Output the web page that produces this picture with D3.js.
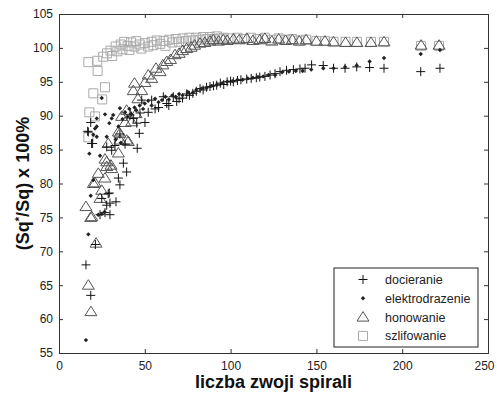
<!DOCTYPE html>
<html>
<head>
<meta charset="utf-8">
<script src="https://cdn.jsdelivr.net/npm/d3@7"></script>
<style>
  html, body { margin: 0; padding: 0; background: #fff; }
  svg { display: block; font-family: "Liberation Sans", Arial, sans-serif; }
</style>
</head>
<body>
<script>
// axis ticks
const xTicks = [0, 50, 100, 150, 200, 250];
const yTicks = [55, 60, 65, 70, 75, 80, 85, 90, 95, 100, 105];

// series: [liczba zwoji, Sq*/Sq %]
const docieranie = [
  [15.7, 68.0], [18.5, 63.5], [21.2, 71.0], [16.7, 87.7], [18.5, 89.0], [19.0, 85.9], [17.1, 87.6], [19.6, 85.9],
  [23.9, 75.4], [26.8, 75.7], [29.7, 75.4], [27.8, 76.8], [24.9, 77.8], [28.7, 78.5], [33.2, 77.3], [29.3, 78.6],
  [29.7, 77.1], [35.5, 79.8], [34.6, 80.8], [39.4, 81.7], [37.5, 83.0], [30.7, 84.9], [27.8, 85.4], [32.6, 85.6],
  [38.5, 85.8], [45.6, 85.2], [35.5, 87.3], [46.8, 87.4], [45.3, 88.9], [41.4, 90.1], [43.3, 89.6], [47.2, 90.4],
  [50.1, 89.0], [48.2, 92.3], [52, 90.5], [54, 92.3], [56, 91], [58, 91.2], [60.8, 92.8], [62.8, 91.8], [64, 91.5],
  [66.6, 92.8], [68.6, 92.1], [70, 92.5], [72, 92.6], [74.4, 93.2], [76, 93], [78, 93.3], [80, 93.6], [82.2, 94.0],
  [84, 93.8], [86, 94.2], [88, 94.3], [90, 94.4], [91.9, 94.5], [94, 94.8], [96, 94.6], [98, 95], [100, 95.1],
  [101.6, 95.0], [104, 95.2], [106, 95.3], [109.4, 95.4], [112, 95.5], [115, 95.6], [117, 95.7], [120, 95.8],
  [123, 96.0], [125.9, 96.2], [128.8, 96.5], [132.6, 96.7], [136.6, 96.8], [140.4, 96.9], [143.4, 97.0],
  [147.2, 97.5], [154, 97.4], [160, 97.0], [166.7, 97.0], [173.5, 97.2], [181, 97.1], [189.4, 97.0],
  [210.8, 96.5], [222, 97.0]
];
const elektrodrazenie = [
  [15.7, 56.9], [17.1, 72.5], [18.5, 78.2], [17.7, 84.4], [20, 80.5], [22, 86.9], [22, 88.4], [20, 87.2], [21, 88.1],
  [22, 89.6], [23.9, 84.1], [24.9, 92.6], [22.9, 75.4], [24.9, 75.5], [26.5, 75.8], [26.8, 90.2], [27.8, 86.9],
  [29.3, 88.9], [30.7, 89.6], [31.6, 90.1], [33, 86.5], [34.6, 88.4], [35.5, 91.1], [36, 86], [37, 89.5],
  [38.5, 90.5], [40, 89.8], [41, 91], [42, 90.3], [44, 91.2], [45, 90.8], [47, 91.5], [49, 91], [50, 91.8],
  [52, 92.2], [54, 91.5], [56, 92.5], [58, 92], [60, 92.3], [62, 92.8], [64, 92.4], [66, 93], [68, 92.8],
  [70, 93.2], [72, 93], [75, 93.5], [78, 93.4], [80, 93.8], [83, 94], [86, 94.1], [89, 94.4], [92, 94.6],
  [95, 94.8], [98, 95], [101, 95.1], [104, 95.3], [107, 95.3], [110, 95.5], [113, 95.6], [116, 95.7], [119, 95.8],
  [122, 96], [126, 96], [130, 96.4], [134, 96.5], [138, 96.6], [142, 96.6], [147, 96.8], [154, 97], [160, 97],
  [166.7, 97.2], [173.5, 97.4], [181, 98.0], [189.4, 98.5], [210.8, 99.1], [222, 99.7]
];
const honowanie = [
  [17.1, 65.0], [18.6, 61.1], [15.7, 76.6], [18.5, 75.0], [21.6, 71.2], [19.1, 75.1], [20, 80.0], [21, 80.1],
  [22.9, 81.5], [23.9, 77.8], [24.9, 79.0], [26.8, 80.8], [26.8, 83.6], [27.8, 82.5], [27.8, 83.2], [30.3, 82.7],
  [30.7, 82.2], [28.7, 85.9], [34.6, 84.5], [35.5, 86.4], [34.6, 87.6], [35.5, 87.4], [39.4, 86.4], [40.4, 86.2],
  [38.5, 89.0], [36.5, 89.9], [39.4, 90.8], [42.4, 89.1], [44.9, 90.3], [43.3, 93.7], [44, 94.8], [46, 92.5],
  [48.2, 93.7], [50.1, 94.9], [52.0, 96.0], [54, 95.5], [56.5, 97.0], [58.9, 96.5], [60.5, 97.5], [62.8, 98.0],
  [65, 98.3], [67.6, 99.0], [70, 99.2], [72, 99.6], [74.4, 99.9], [77, 100.1], [79, 100.4], [82.2, 100.7],
  [85, 100.8], [88, 101], [89.9, 101.2], [93, 101], [95.7, 101.2], [98, 101.1], [101.6, 101.3], [105, 101.2],
  [109.4, 101.4], [113, 101.1], [117, 101.2], [120, 101.4], [124, 101], [128, 101.3], [132, 101.1], [136, 101.2],
  [140, 101], [144, 101.2], [150, 101], [155, 101], [160, 100.9], [167, 100.8], [173.6, 100.8], [181.8, 100.8],
  [189.4, 100.9], [211, 100.4], [221.5, 100.4]
];
const szlifowanie = [
  [17.1, 86.8], [17.7, 90.5], [21, 89.9], [17.1, 97.9], [22.3, 98.1], [22.5, 96.6], [20, 93.3], [25.2, 92.4],
  [26.8, 94.2], [25.8, 98.7], [28, 99.2], [30, 99.6], [31, 98.8], [33, 100.2], [34, 99.5], [36, 100.5], [37, 99.8],
  [38, 100.9], [40, 100.3], [41, 99.7], [42, 100.8], [44, 100.2], [45, 101], [47, 100.5], [48, 99.9], [50, 100.7],
  [52, 100.2], [54, 100.9], [55, 100.4], [57, 101.1], [59, 100.6], [61, 101], [62, 100.3], [64, 101.2], [66, 100.8],
  [68, 101.3], [70, 100.9], [72, 101.4], [74, 101], [76, 101.5], [78, 101.1], [80, 101.5], [82, 101.2], [84, 101.6],
  [86, 101.3], [88, 101.6], [90, 101.3], [92, 101.7], [94, 101.4], [96, 101.5], [100, 101.4], [104, 101.5],
  [108, 101.3], [112, 101.5], [116, 101.3], [120, 101.5], [124, 101.2], [128, 101.4], [132, 101.2], [136, 101.3],
  [140, 101.1], [144, 101.2], [150, 101], [155, 101], [160, 100.9], [167, 100.9], [173.6, 100.9], [181.8, 100.9],
  [189.4, 100.9], [211, 100.3], [221.5, 100.3]
];

const seriesNames = ["docieranie", "elektrodrazenie", "honowanie", "szlifowanie"];

const width = 497, height = 394;
const margin = { left: 59, right: 9, top: 14, bottom: 41 };

const svg = d3.select("body").append("svg")
  .attr("width", width)
  .attr("height", height);

const x = d3.scaleLinear().domain([0, 250]).range([margin.left, width - margin.right]);
const y = d3.scaleLinear().domain([55, 105]).range([height - margin.bottom, margin.top]);

// marker drawing per series
const markers = {
  docieranie: (g) => g.append("path").attr("d", "M-4.5,0H4.5M0,-4.5V4.5")
    .attr("stroke", "#111").attr("stroke-width", 1).attr("fill", "none"),
  elektrodrazenie: (g) => g.append("path").attr("d", "M0,-2.2L2.2,0L0,2.2L-2.2,0Z")
    .attr("fill", "#222").attr("stroke", "none"),
  honowanie: (g) => g.append("path").attr("d", "M0,-5.5L6,4H-6Z")
    .attr("stroke", "#555").attr("stroke-width", 1).attr("fill", "none"),
  szlifowanie: (g) => g.append("path").attr("d", "M-4.5,-4.5H4.5V4.5H-4.5Z")
    .attr("stroke", "#aaa").attr("stroke-width", 1).attr("fill", "none"),
};
const seriesData = { docieranie, elektrodrazenie, honowanie, szlifowanie };

// draw order: squares, triangles, pluses, dots (roughly as in source)
const drawOrder = ["szlifowanie", "honowanie", "docieranie", "elektrodrazenie"];
const plot = svg.append("g");
drawOrder.forEach((name) => {
  const g = plot.append("g").attr("class", name);
  g.selectAll("g")
    .data(seriesData[name])
    .join("g")
    .attr("transform", (d) => `translate(${x(d[0])},${y(d[1])})`)
    .each(function () { markers[name](d3.select(this)); });
});

// axes (ticks inside, matlab style box)
const axisColor = "#333";
const tickLen = 4;
const xb = svg.append("g").attr("transform", `translate(0,${y(55)})`)
  .call(d3.axisBottom(x).tickValues(xTicks).tickSize(-tickLen).tickPadding(8));
const xt = svg.append("g").attr("transform", `translate(0,${y(105)})`)
  .call(d3.axisTop(x).tickValues(xTicks).tickSize(-tickLen).tickFormat(""));
const yl = svg.append("g").attr("transform", `translate(${x(0)},0)`)
  .call(d3.axisLeft(y).tickValues(yTicks).tickSize(-tickLen).tickPadding(6));
const yr = svg.append("g").attr("transform", `translate(${x(250)},0)`)
  .call(d3.axisRight(y).tickValues(yTicks).tickSize(-tickLen).tickFormat(""));
[xb, xt, yl, yr].forEach((a) => {
  a.select(".domain").attr("stroke", axisColor);
  a.selectAll(".tick line").attr("stroke", axisColor);
  a.selectAll(".tick text")
    .attr("fill", "#222")
    .style("font-size", "12px")
    .style("font-family", "'Liberation Sans', Arial, sans-serif");
});
// last x label sits against the page edge
xb.selectAll(".tick text").filter((d) => d === 250).attr("dx", -4);

// axis titles
svg.append("text")
  .attr("x", (x(0) + x(250)) / 2)
  .attr("y", 388)
  .attr("text-anchor", "middle")
  .style("font-size", "18px")
  .style("font-weight", "bold")
  .attr("fill", "#111")
  .text("liczba zwoji spirali");

const ylab = svg.append("text")
  .attr("transform", `translate(29,${(y(55) + y(105)) / 2}) rotate(-90)`)
  .attr("text-anchor", "middle")
  .style("font-size", "18px")
  .style("font-weight", "bold")
  .attr("fill", "#111");
ylab.append("tspan").text("(Sq");
ylab.append("tspan").attr("dy", -6).style("font-size", "11px").text("*");
ylab.append("tspan").attr("dy", 6).text("/Sq) x 100%");

// legend
const lg = svg.append("g").attr("transform", "translate(334,268)");
lg.append("rect")
  .attr("width", 144).attr("height", 79)
  .attr("fill", "#fff").attr("stroke", "#222").attr("stroke-width", 1);
seriesNames.forEach((name, i) => {
  const row = lg.append("g").attr("transform", `translate(29,${11.5 + i * 18.8})`);
  markers[name](row);
  row.append("text")
    .attr("x", 22).attr("y", 4.5)
    .style("font-size", "12.5px")
    .attr("fill", "#222")
    .text(name);
});
</script>
</body>
</html>
